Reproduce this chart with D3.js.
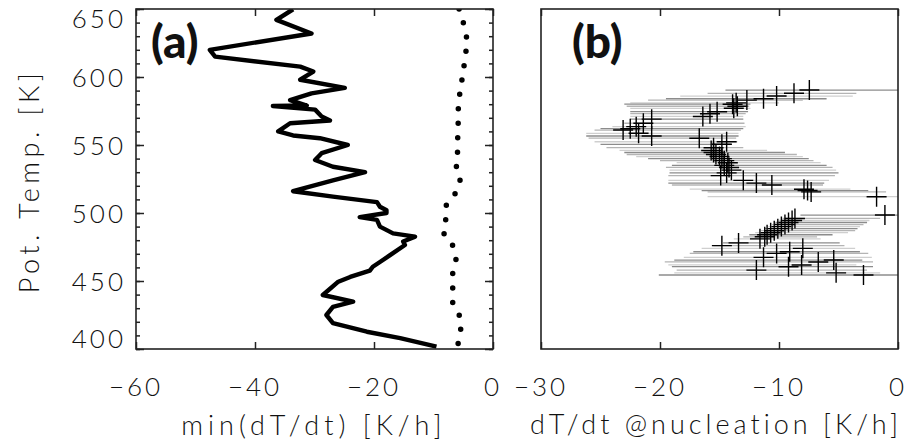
<!DOCTYPE html>
<html><head><meta charset="utf-8">
<script src="https://cdn.jsdelivr.net/npm/d3@7"></script>
<style>
body{margin:0;background:#fff}
svg{display:block}
text{font-family:Lato,"DejaVu Sans",sans-serif;fill:#111}
</style>
</head><body>
<svg id="c" width="914" height="440"></svg>
<script>
// ---- data ----
const thetaTicks = [400, 450, 500, 550, 600, 650];
const xTicksA = [-60, -40, -20, 0];
const xTicksB = [-30, -20, -10, 0];

// panel (a): solid line, min(dT/dt) vs potential temperature
const thetaA = [649.8, 642, 632, 620, 615, 607.6, 604, 598, 592, 588, 583, 579, 578.7, 576, 571, 568, 566, 560, 557, 555, 550, 544, 539, 534, 530, 524, 516, 512, 508, 504.6, 502, 500, 497, 495, 490, 485, 482.6, 479, 476.5, 469, 464, 460.5, 457.6, 453, 449.5, 439.7, 434.8, 431, 425, 419, 412.7, 408, 401.7];
const minRateA = [-33.6, -36.4, -30.5, -47.6, -46.7, -32.4, -30.2, -32.4, -24.9, -30.5, -34.1, -31.3, -37, -29.9, -28.8, -27.4, -34.1, -36.1, -33.6, -29.1, -24.4, -28.8, -29.9, -26.9, -21.5, -26.9, -33.6, -26.9, -19.5, -19, -17.9, -17.9, -22.4, -19.5, -19, -16.8, -13.1, -15.1, -14.8, -17.3, -19, -20.2, -20.7, -24, -26, -28.6, -23.5, -26.9, -28, -26.9, -21.2, -15.6, -9.5];

// panel (a): dotted line
const thetaDots = [650, 648.5, 637.7, 626.2, 615, 604, 592, 580.7, 569, 557, 546, 535, 525.5, 514, 505, 495, 485.5, 477, 466, 455.7, 444.6, 432.9, 423, 412.3, 401.3, 398];
const rateDots = [-5.7, -5.66, -4.82, -4.32, -4.66, -5.0, -5.43, -5.83, -5.83, -5.93, -5.93, -6.22, -5.43, -6.39, -7.95, -7.95, -8.35, -6.84, -6.22, -6.77, -6.77, -6.77, -5.43, -5.43, -6.0, -6.0];

// panel (b): dT/dt at nucleation with ranges
const thetaNuc = [590.4, 588, 586, 584, 583, 581, 580, 578.5, 577, 574.5, 573, 571, 569, 566, 563.5, 562, 561, 558.6, 556.6, 555, 552.4, 550.5, 548, 546, 544.5, 543, 541.5, 540, 538.5, 537, 535, 533.5, 531.5, 529.5, 527.5, 524, 522, 520.6, 517.5, 516.5, 515.5, 512, 498.5, 496, 494.5, 493, 491.5, 490, 488.5, 487, 485.5, 484, 482.5, 481, 478, 476, 474, 471.5, 470.3, 467.4, 465.4, 464, 461.8, 460.5, 458, 456, 454.4];
const rateNuc = [-7.45, -8.74, -10.2, -11.3, -12.7, -13.6, -13.9, -13.5, -13.8, -15.2, -15.8, -16.4, -20.7, -21.4, -22, -22.5, -23.1, -21.8, -20.7, -16.7, -14.4, -14.8, -15.5, -15.7, -15.5, -15.3, -15.0, -14.8, -14.6, -14.3, -14.6, -14.2, -14.0, -14.4, -14.9, -13.0, -11.9, -10.6, -7.9, -7.6, -7.3, -1.8, -1.1, -8.66, -8.9, -9.2, -9.5, -9.8, -10.1, -10.4, -10.7, -11.0, -11.2, -11.6, -13.4, -14.8, -8.0, -9.1, -10.2, -11.3, -5.4, -6.7, -8.1, -9.2, -11.9, -5.2, -2.9];
const loNuc = [-14.5, -16, -18.3, -19.5, -21, -22.5, -23, -22.8, -22.5, -22.5, -22.5, -22.5, -22.5, -23, -24, -25, -25.5, -26.2, -26.2, -26, -25.5, -25, -24.5, -23.4, -23, -22.8, -22, -21, -20, -18.6, -19, -19.5, -19.2, -19.2, -19.3, -19.3, -19.3, -19, -17.5, -16.5, -16, -16, -8.2, -9.7, -10, -10.3, -10.6, -10.9, -11.2, -11.5, -12, -12.5, -13, -13.8, -14.7, -15.5, -16.5, -17.2, -17.5, -18, -18.8, -19.6, -19.3, -19, -18.6, -18.8, -20.1];
const hiNuc = [0, -3.5, -3.8, -6, -8, -10, -12.4, -12.5, -12.4, -12.6, -12.8, -13, -13, -12.9, -12.8, -13, -13.2, -13.4, -13.4, -13.6, -13.5, -14, -13, -11, -9.5, -8.5, -8, -7.5, -7.1, -6.5, -6, -5.5, -5.2, -5.0, -5.3, -5.8, -6.2, -6.3, -4, -2.5, -1, 0, 0, -1.5, -2.4, -2.6, -2.9, -3.2, -3.4, -3.6, -4.2, -5.5, -6.8, -6.5, -4.9, -4.5, -3.6, -3.2, -2.5, -2.2, -3, -2.1, -3.5, -2.1, -2.6, -1.5, 0];

// ---- layout ----
const svg = d3.select('#c');
const yTop = 9, yBot = 349;
const y = d3.scaleLinear().domain([400, 650]).range([yBot, yTop]);
const xa = d3.scaleLinear().domain([-60, 0]).range([136, 493]);
const xb = d3.scaleLinear().domain([-30, 0]).range([541, 898]);
const axisColor = '#222';

function styleAxis(g) {
  g.select('.domain').remove();
  g.selectAll('.tick line').attr('stroke', axisColor).attr('stroke-width', 1.5);
  g.selectAll('.tick text').remove();
}

const defs = svg.append('defs');
defs.append('clipPath').attr('id', 'clipA').append('rect')
  .attr('x', xa(-60)).attr('y', yTop).attr('width', xa(0) - xa(-60)).attr('height', yBot - yTop);
defs.append('clipPath').attr('id', 'clipB').append('rect')
  .attr('x', xb(-30)).attr('y', yTop).attr('width', xb(0) - xb(-30)).attr('height', yBot - yTop);

// ---- panel (a) ----
const minorTheta = d3.range(400, 651, 10);
svg.append('g').attr('transform', `translate(${xa(-60)},0)`).call(d3.axisLeft(y).tickValues(minorTheta).tickSize(-4)).call(styleAxis);
svg.append('g').attr('transform', `translate(${xa(-60)},0)`).call(d3.axisLeft(y).tickValues(thetaTicks).tickSize(-8)).call(styleAxis);
svg.append('g').attr('transform', `translate(${xa(0)},0)`).call(d3.axisRight(y).tickValues(minorTheta).tickSize(-4)).call(styleAxis);
svg.append('g').attr('transform', `translate(${xa(0)},0)`).call(d3.axisRight(y).tickValues(thetaTicks).tickSize(-8)).call(styleAxis);
svg.append('g').attr('transform', `translate(0,${yBot})`).call(d3.axisBottom(xa).tickValues(xTicksA).tickSize(-7)).call(styleAxis);
svg.append('g').attr('transform', `translate(0,${yTop})`).call(d3.axisTop(xa).tickValues(xTicksA).tickSize(-7)).call(styleAxis);

const gA = svg.append('g').attr('clip-path', 'url(#clipA)');
const lineA = d3.line().x(d => xa(d[1])).y(d => y(d[0]));
gA.append('path').datum(d3.zip(thetaDots, rateDots))
  .attr('d', lineA).attr('fill', 'none').attr('stroke', '#000')
  .attr('stroke-width', 5.5).attr('stroke-linecap', 'round').attr('stroke-dasharray', '0 14.5');
gA.append('path').datum(d3.zip(thetaA, minRateA))
  .attr('d', lineA).attr('fill', 'none').attr('stroke', '#000')
  .attr('stroke-width', 4.4).attr('stroke-linejoin', 'round');

svg.append('rect').attr('x', xa(-60)).attr('y', yTop).attr('width', xa(0) - xa(-60)).attr('height', yBot - yTop)
  .attr('fill', 'none').attr('stroke', axisColor).attr('stroke-width', 1.6);

// ---- panel (b) ----
svg.append('g').attr('transform', `translate(0,${yBot})`).call(d3.axisBottom(xb).tickValues(xTicksB).tickSize(-7)).call(styleAxis);
svg.append('g').attr('transform', `translate(0,${yTop})`).call(d3.axisTop(xb).tickValues(xTicksB).tickSize(-7)).call(styleAxis);

const gB = svg.append('g').attr('clip-path', 'url(#clipB)');
const nuc = thetaNuc.map((t, i) => ({t, v: rateNuc[i], lo: loNuc[i], hi: hiNuc[i]}));
gB.selectAll('line.range').data(nuc).join('line').attr('class', 'range')
  .attr('x1', d => xb(d.lo)).attr('x2', d => xb(d.hi))
  .attr('y1', d => y(d.t)).attr('y2', d => y(d.t))
  .attr('stroke', (d, i) => i % 3 === 0 ? '#8c8c8c' : (i % 3 === 1 ? '#b4b4b4' : '#cfcfcf'))
  .attr('stroke-width', 1.3);
gB.selectAll('path.cross').data(nuc).join('path').attr('class', 'cross')
  .attr('d', d => { const cx = xb(d.v), cy = y(d.t); return `M${cx - 10},${cy}H${cx + 10}M${cx},${cy - 10}V${cy + 10}`; })
  .attr('stroke', '#000').attr('stroke-width', 1.4).attr('fill', 'none');

svg.append('rect').attr('x', xb(-30)).attr('y', yTop).attr('width', xb(0) - xb(-30)).attr('height', yBot - yTop)
  .attr('fill', 'none').attr('stroke', axisColor).attr('stroke-width', 1.6);

// ---- tick labels ----
const lab = {'font-size': '26px', 'font-weight': 300, 'letter-spacing': '3px'};
function applyLab(sel) { Object.entries(lab).forEach(([k, v]) => sel.style(k, v)); return sel; }
const fmt = v => (v < 0 ? '\u2212' + Math.abs(v) : '' + v);

applyLab(svg.append('g').selectAll('text').data(thetaTicks).join('text')
  .attr('x', 126)
  .attr('y', d => y(d) + (d === 650 ? 9 : d === 400 ? -11 : 0))
  .attr('dominant-baseline', 'central').attr('text-anchor', 'end')
  .text(d => d));
applyLab(svg.append('g').selectAll('text').data(xTicksA).join('text')
  .attr('x', d => xa(d)).attr('y', 386)
  .attr('dominant-baseline', 'central').attr('text-anchor', 'middle')
  .text(fmt));
applyLab(svg.append('g').selectAll('text').data(xTicksB).join('text')
  .attr('x', d => xb(d)).attr('y', 386)
  .attr('dominant-baseline', 'central').attr('text-anchor', 'middle')
  .text(fmt));

// ---- titles ----
applyLab(svg.append('text').attr('transform', 'translate(28,181) rotate(-90)')
  .attr('text-anchor', 'middle').attr('dominant-baseline', 'central').text('Pot. Temp. [K]'))
  .style('letter-spacing', '4.5px').style('font-size', '27px');
applyLab(svg.append('text').attr('x', 314).attr('y', 424)
  .attr('text-anchor', 'middle').attr('dominant-baseline', 'central').text('min(dT/dt) [K/h]'))
  .style('letter-spacing', '5px').style('font-size', '27px');
applyLab(svg.append('text').attr('x', 716).attr('y', 423)
  .attr('text-anchor', 'middle').attr('dominant-baseline', 'central').text('dT/dt @nucleation [K/h]'))
  .style('letter-spacing', '4px').style('font-size', '27px');

// ---- panel labels ----
svg.append('text').attr('x', 151).attr('y', 58).text('(a)')
  .style('font-size', '46px').style('font-weight', 900);
svg.append('text').attr('x', 572).attr('y', 58).text('(b)')
  .style('font-size', '46px').style('font-weight', 900);
</script>
</body></html>
